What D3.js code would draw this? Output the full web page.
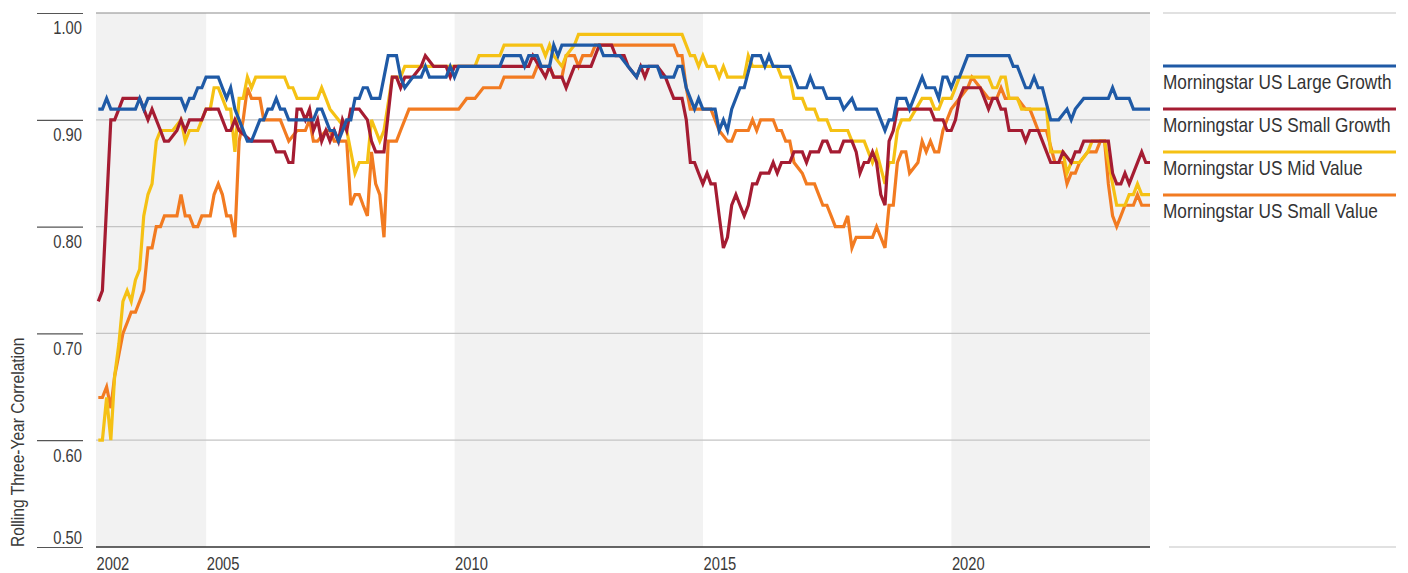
<!DOCTYPE html>
<html>
<head>
<meta charset="utf-8">
<script src="https://cdn.jsdelivr.net/npm/d3@7"></script>
<style>
  body { margin: 0; background: #fff; }
  svg text { font-family: "Liberation Sans", Arial, sans-serif; }
</style>
</head>
<body>
<svg id="chart" width="1408" height="573"></svg>
<script>
// ######## Data: rolling three-year correlation, [month, value]
// ######## (only the months where the line changes direction are kept)

const largeGrowth = [
  ["2002-10",.91],["2002-11",.91],["2002-12",.92],["2003-01",.91],["2003-07",.91],["2003-08",.92],["2003-09",.91],["2003-10",.92],
  ["2004-06",.92],["2004-07",.91],["2004-08",.92],["2004-09",.92],["2004-10",.93],["2004-11",.93],["2004-12",.94],
  ["2005-03",.94],["2005-04",.93],["2005-05",.92],["2005-06",.93],["2005-07",.91],["2005-10",.88],["2005-11",.88],
  ["2006-01",.90],["2006-02",.90],["2006-03",.91],["2006-04",.91],["2006-05",.92],["2006-06",.91],["2006-07",.91],["2006-08",.90],
  ["2007-02",.90],["2007-03",.91],["2007-04",.91],["2007-05",.90],["2007-06",.89],["2007-07",.89],["2007-08",.88],["2007-10",.90],["2007-11",.90],["2007-12",.92],
  ["2008-01",.92],["2008-02",.93],["2008-03",.93],["2008-04",.92],["2008-06",.92],["2008-07",.94],["2008-08",.96],["2008-10",.96],["2008-11",.94],["2008-12",.93],
  ["2009-02",.94],["2009-04",.94],["2009-05",.95],["2009-06",.94],["2009-10",.94],["2009-11",.95],["2009-12",.94],
  ["2010-01",.95],["2010-11",.95],["2010-12",.96],
  ["2011-04",.96],["2011-05",.95],["2011-06",.96],["2011-08",.96],["2011-09",.95],["2011-11",.95],["2011-12",.97],
  ["2012-01",.96],["2012-02",.97],["2012-11",.97],["2012-12",.96],
  ["2013-04",.96],["2013-06",.95],["2013-08",.94],["2013-09",.95],
  ["2014-01",.95],["2014-02",.94],["2014-05",.94],["2014-06",.95],["2014-07",.95],["2014-08",.93],["2014-10",.91],["2014-11",.92],["2014-12",.91],
  ["2015-03",.91],["2015-04",.89],["2015-05",.90],["2015-06",.89],["2015-07",.91],["2015-09",.93],["2015-10",.93],["2015-12",.96],
  ["2016-02",.96],["2016-03",.95],["2016-04",.96],["2016-05",.95],["2016-09",.95],["2016-11",.93],
  ["2017-01",.93],["2017-02",.94],["2017-03",.93],["2017-05",.93],["2017-06",.92],["2017-09",.92],["2017-10",.91],["2017-12",.92],
  ["2018-01",.91],["2018-06",.91],["2018-08",.89],["2018-09",.90],["2018-10",.90],["2018-11",.92],
  ["2019-01",.92],["2019-02",.91],["2019-05",.94],["2019-06",.93],["2019-08",.93],["2019-09",.92],["2019-10",.94],["2019-11",.94],["2019-12",.93],
  ["2020-01",.94],["2020-02",.94],["2020-04",.96],
  ["2021-02",.96],["2021-03",.95],["2021-04",.95],["2021-06",.93],["2021-07",.93],["2021-08",.94],["2021-09",.93],["2021-10",.93],["2021-12",.90],
  ["2022-02",.90],["2022-04",.91],["2022-05",.90],["2022-06",.91],["2022-08",.92],
  ["2023-02",.92],["2023-03",.93],["2023-04",.92],["2023-07",.92],["2023-08",.91],["2023-12",.91]
];

const smallGrowth = [
  ["2002-10",.73],["2002-11",.74],["2003-01",.90],["2003-02",.90],["2003-03",.91],["2003-04",.92],["2003-08",.92],["2003-10",.90],["2003-11",.91],
  ["2004-01",.89],["2004-02",.88],["2004-03",.88],["2004-05",.89],["2004-06",.90],["2004-07",.89],["2004-08",.90],["2004-11",.90],["2004-12",.91],
  ["2005-03",.91],["2005-05",.89],["2005-06",.89],["2005-07",.90],["2005-08",.89],["2005-11",.88],
  ["2006-04",.88],["2006-05",.87],["2006-07",.87],["2006-08",.86],["2006-09",.86],["2006-10",.91],["2006-11",.91],["2006-12",.90],
  ["2007-01",.91],["2007-02",.89],["2007-03",.90],["2007-04",.88],["2007-05",.89],["2007-06",.88],["2007-07",.89],["2007-08",.88],["2007-09",.90],["2007-10",.89],["2007-11",.91],
  ["2008-01",.91],["2008-03",.90],["2008-04",.88],["2008-05",.87],["2008-07",.87],["2008-09",.94],["2008-10",.94],["2008-11",.93],["2008-12",.94],
  ["2009-02",.94],["2009-04",.95],["2009-05",.96],["2009-07",.95],["2009-10",.95],["2009-11",.94],["2009-12",.95],
  ["2011-06",.95],["2011-07",.96],["2011-10",.94],["2011-11",.95],["2011-12",.94],
  ["2012-02",.94],["2012-03",.93],["2012-04",.94],["2012-05",.95],["2012-09",.95],["2012-11",.97],
  ["2013-02",.97],["2013-03",.96],["2013-05",.96],["2013-06",.95],["2013-08",.94],["2013-09",.95],["2013-10",.94],["2013-11",.95],
  ["2014-01",.95],["2014-03",.94],["2014-04",.93],["2014-05",.92],["2014-07",.92],["2014-08",.90],["2014-09",.86],["2014-10",.86],["2014-11",.85],["2014-12",.84],
  ["2015-01",.85],["2015-02",.84],["2015-03",.84],["2015-04",.81],["2015-05",.78],["2015-06",.79],["2015-07",.82],["2015-08",.83],["2015-09",.82],["2015-10",.81],["2015-11",.82],["2015-12",.84],
  ["2016-01",.84],["2016-02",.85],["2016-04",.85],["2016-05",.86],["2016-06",.85],["2016-07",.86],["2016-09",.86],["2016-10",.87],["2016-12",.87],
  ["2017-01",.86],["2017-02",.87],["2017-04",.87],["2017-05",.88],["2017-06",.88],["2017-07",.87],["2017-09",.87],["2017-10",.88],["2017-12",.88],
  ["2018-01",.87],["2018-02",.85],["2018-03",.86],["2018-04",.86],["2018-05",.87],["2018-06",.86],["2018-07",.83],["2018-08",.82],["2018-09",.88],["2018-10",.89],["2018-11",.91],
  ["2019-07",.91],["2019-08",.90],["2019-10",.90],["2019-11",.89],["2019-12",.89],
  ["2020-01",.90],["2020-02",.92],["2020-03",.93],["2020-07",.93],["2020-08",.92],["2020-09",.91],["2020-10",.92],["2020-11",.92],["2020-12",.91],
  ["2021-01",.91],["2021-02",.89],["2021-05",.89],["2021-06",.88],["2021-07",.89],["2021-09",.89],["2021-10",.88],["2021-12",.86],
  ["2022-02",.86],["2022-03",.87],["2022-05",.86],["2022-06",.87],["2022-07",.87],["2022-08",.88],
  ["2023-02",.88],["2023-03",.85],["2023-04",.84],["2023-05",.84],["2023-06",.85],["2023-07",.84],["2023-10",.87],["2023-11",.86],["2023-12",.86]
];

const midValue = [
  ["2002-10",.60],["2002-11",.60],["2002-12",.64],["2003-01",.60],["2003-02",.66],["2003-03",.69],["2003-04",.73],["2003-05",.74],["2003-06",.73],
  ["2003-07",.75],["2003-08",.76],["2003-09",.81],["2003-10",.83],["2003-11",.84],["2003-12",.88],
  ["2004-01",.89],["2004-04",.89],["2004-06",.90],["2004-07",.88],["2004-08",.89],["2004-10",.89],["2004-12",.91],
  ["2005-01",.91],["2005-02",.93],["2005-03",.93],["2005-05",.91],["2005-06",.91],["2005-07",.87],["2005-08",.92],["2005-09",.92],["2005-10",.94],["2005-11",.93],["2005-12",.94],
  ["2006-07",.94],["2006-08",.93],["2006-09",.93],["2006-10",.92],
  ["2007-03",.92],["2007-04",.93],["2007-05",.92],["2007-06",.91],["2007-08",.90],["2007-10",.89],["2007-12",.85],
  ["2008-01",.86],["2008-03",.86],["2008-04",.90],["2008-05",.89],["2008-06",.88],["2008-07",.89],["2008-09",.94],["2008-11",.94],["2008-12",.95],
  ["2010-05",.95],["2010-06",.96],["2010-11",.96],["2010-12",.97],
  ["2011-09",.97],["2011-10",.96],["2011-11",.97],["2011-12",.96],
  ["2012-02",.95],["2012-03",.96],["2012-05",.97],["2012-06",.98],
  ["2014-07",.98],["2014-09",.96],["2014-10",.96],["2014-11",.95],["2014-12",.96],
  ["2015-01",.95],["2015-03",.95],["2015-04",.94],["2015-05",.95],["2015-06",.94],["2015-10",.94],["2015-11",.96],["2015-12",.95],
  ["2016-06",.95],["2016-07",.94],["2016-09",.94],["2016-10",.92],["2016-12",.92],
  ["2017-01",.91],["2017-03",.91],["2017-04",.90],["2017-06",.90],["2017-07",.89],["2017-11",.89],["2017-12",.88],
  ["2018-03",.88],["2018-05",.86],["2018-06",.87],["2018-08",.84],["2018-09",.86],["2018-10",.86],["2018-11",.89],["2018-12",.90],
  ["2019-02",.90],["2019-05",.92],["2019-07",.92],["2019-08",.91],["2019-09",.91],["2019-10",.92],["2019-12",.92],
  ["2020-01",.93],["2020-02",.94],["2020-09",.94],["2020-10",.93],["2020-11",.93],["2020-12",.94],
  ["2021-01",.94],["2021-02",.92],["2021-04",.92],["2021-05",.91],["2021-11",.91],["2021-12",.87],
  ["2022-03",.87],["2022-04",.85],["2022-05",.86],["2022-07",.86],["2022-09",.87],["2022-10",.88],
  ["2023-01",.88],["2023-03",.84],["2023-04",.82],["2023-06",.82],["2023-07",.83],["2023-08",.83],["2023-09",.84],["2023-10",.83],["2023-12",.83]
];

const smallValue = [
  ["2002-10",.64],["2002-11",.64],["2002-12",.65],["2003-01",.63],["2003-02",.66],["2003-03",.68],["2003-04",.70],["2003-05",.71],["2003-06",.72],
  ["2003-07",.72],["2003-08",.73],["2003-09",.74],["2003-10",.78],["2003-11",.78],["2003-12",.80],
  ["2004-01",.80],["2004-02",.81],["2004-05",.81],["2004-06",.83],["2004-07",.81],["2004-08",.81],["2004-09",.80],["2004-10",.80],["2004-11",.81],
  ["2005-01",.81],["2005-02",.83],["2005-03",.84],["2005-04",.83],["2005-05",.81],["2005-06",.81],["2005-07",.79],["2005-08",.88],["2005-09",.90],["2005-10",.93],["2005-11",.92],
  ["2006-01",.92],["2006-02",.90],["2006-06",.90],["2006-07",.89],["2006-08",.88],["2006-10",.89],["2006-12",.89],
  ["2007-01",.90],["2007-02",.88],["2007-03",.88],["2007-05",.89],["2007-06",.89],["2007-07",.88],["2007-10",.88],["2007-11",.82],["2007-12",.83],
  ["2008-01",.83],["2008-02",.82],["2008-03",.81],["2008-04",.87],["2008-05",.84],["2008-06",.83],["2008-07",.79],["2008-08",.88],["2008-10",.88],["2008-11",.89],
  ["2009-01",.91],["2010-01",.91],["2010-03",.92],["2010-05",.92],["2010-07",.93],["2010-11",.93],["2010-12",.94],
  ["2011-07",.94],["2011-08",.95],["2011-11",.95],["2011-12",.94],
  ["2012-02",.94],["2012-03",.96],["2012-05",.96],["2012-06",.95],["2012-07",.96],["2012-09",.96],["2012-10",.97],
  ["2014-05",.97],["2014-06",.96],["2014-07",.96],["2014-08",.93],["2014-09",.91],
  ["2015-02",.91],["2015-03",.90],["2015-04",.89],["2015-06",.88],["2015-07",.88],["2015-08",.89],["2015-11",.89],["2015-12",.90],
  ["2016-01",.89],["2016-02",.90],["2016-05",.90],["2016-06",.89],["2016-07",.89],["2016-08",.88],["2016-09",.88],["2016-10",.86],["2016-12",.85],
  ["2017-01",.84],["2017-03",.84],["2017-05",.82],["2017-06",.82],["2017-07",.81],["2017-08",.80],["2017-10",.80],["2017-11",.81],["2017-12",.78],
  ["2018-01",.79],["2018-05",.79],["2018-06",.80],["2018-07",.79],["2018-08",.78],["2018-09",.82],["2018-10",.82],["2018-11",.86],["2018-12",.87],
  ["2019-01",.87],["2019-02",.85],["2019-04",.86],["2019-05",.88],["2019-06",.87],["2019-07",.88],["2019-08",.87],["2019-09",.87],["2019-10",.89],["2019-11",.90],["2019-12",.91],
  ["2020-02",.92],["2020-04",.93],["2020-05",.94],["2020-07",.93],["2020-09",.92],["2020-11",.92],["2020-12",.93],
  ["2021-01",.92],["2021-04",.92],["2021-06",.91],["2021-07",.91],["2021-08",.90],["2021-09",.89],["2021-11",.89],
  ["2022-01",.86],["2022-03",.86],["2022-04",.84],["2022-05",.85],["2022-06",.85],["2022-07",.86],["2022-09",.87],["2022-11",.87],["2022-12",.88],
  ["2023-01",.88],["2023-02",.84],["2023-03",.81],["2023-04",.80],["2023-05",.81],["2023-06",.82],["2023-08",.82],["2023-09",.83],["2023-10",.82],["2023-12",.82]
];

const seriesNames = ["Morningstar US Large Growth", "Morningstar US Small Growth", "Morningstar US Mid Value", "Morningstar US Small Value"];
const seriesColors = ["#1f5aa6", "#a51c32", "#f5c114", "#f27b21"];
const allSeries = [largeGrowth, smallGrowth, midValue, smallValue];

const yTicks = [1.0, 0.9, 0.8, 0.7, 0.6, 0.5];
const xTickYears = [2005, 2010, 2015, 2020];
const xTickLabels = ["2002", "2005", "2010", "2015", "2020"];
const yTitle = "Rolling Three-Year Correlation";


// ######## Scales
const svg = d3.select("#chart");
const plotLeft = 96, plotRight = 1150, plotTop = 13, plotBottom = 547;
const textColor = "#3a3a3a";

const parseMonth = d3.timeParse("%Y-%m");
// values are month-end numbers
function monthEnd(s) {
    return d3.timeDay.offset(d3.timeMonth.offset(parseMonth(s), 1), -1);
}

// no condensed face installed, so squeeze the regular one
// around the text's own x, so the anchor stays put
function narrow(sel) {
    sel.each(function() {
        const x0 = +this.getAttribute("x") || 0;
        const prev = this.getAttribute("transform") || "";
        this.setAttribute("transform",
            prev + " translate(" + x0 + ",0) scale(0.82,1) translate(" + (-x0) + ",0)");
    });
}

const xStart = new Date(2002, 9, 14);
const xEnd = new Date(2023, 11, 31);
const x = d3.scaleTime().domain([xStart, xEnd]).range([plotLeft, plotRight]);
const y = d3.scaleLinear().domain([0.5, 1]).range([plotBottom, plotTop]);

const yearDate = yr => new Date(yr, 0, 1);


// ######## Shaded periods
const bands = [[xStart, yearDate(2005)], [yearDate(2010), yearDate(2015)], [yearDate(2020), xEnd]];
svg.append("g").selectAll("rect")
    .data(bands)
    .join("rect")
    .attr("x", d => x(d[0]))
    .attr("width", d => x(d[1]) - x(d[0]))
    .attr("y", plotTop)
    .attr("height", plotBottom - plotTop)
    .attr("fill", "#f2f2f2");


// ######## Gridlines
svg.append("g").selectAll("line")
    .data(yTicks.filter(t => t > 0.5))
    .join("line")
    .attr("x1", plotLeft)
    .attr("x2", plotRight)
    .attr("y1", d => y(d))
    .attr("y2", d => y(d))
    .attr("stroke", d => d === 1 ? "#8c8c8c" : "#c4c4c4")
    .attr("stroke-width", 1.2);


// ######## Y axis: ticks hang left, labels sit under the tick
const yAxis = d3.axisLeft(y)
    .tickValues(yTicks)
    .tickSize(46)
    .tickFormat(d3.format(".2f"));

const gy = svg.append("g")
    .attr("transform", "translate(83,0)")
    .call(yAxis);

gy.select(".domain").remove();
gy.selectAll(".tick line").attr("stroke", "#555").attr("stroke-width", 1.2);
gy.selectAll(".tick text")
    .attr("x", -1)
    .attr("dy", d => d === 0.5 ? -4 : 21)
    .attr("font-size", 18)
    .attr("fill", textColor)
    .call(narrow);

svg.append("text")
    .attr("transform", "translate(24," + plotBottom + ") rotate(-90)")
    .attr("text-anchor", "start")
    .attr("font-size", 19)
    .attr("fill", textColor)
    .text(yTitle)
    .call(narrow);


// ######## X axis
const xAxis = d3.axisBottom(x)
    .tickValues([xStart].concat(xTickYears.map(yearDate)))
    .tickSize(0)
    .tickFormat((d, i) => xTickLabels[i]);

const gx = svg.append("g")
    .attr("transform", "translate(0," + plotBottom + ")")
    .call(xAxis);

gx.select(".domain").remove();
gx.selectAll(".tick text")
    .attr("text-anchor", "start")
    .attr("x", 0)
    .attr("y", 23)
    .attr("dy", 0)
    .attr("font-size", 18)
    .attr("fill", textColor)
    .call(narrow);


// ######## Lines (small value first, large growth on top)
const line = d3.line()
    .x(d => x(monthEnd(d[0])))
    .y(d => y(d[1]));

for (let i = allSeries.length - 1; i >= 0; i--) {
    svg.append("path")
        .datum(allSeries[i])
        .attr("d", line)
        .attr("fill", "none")
        .attr("stroke", seriesColors[i])
        .attr("stroke-width", 3.2);
}

// bottom axis line drawn over the lines
svg.append("line")
    .attr("x1", plotLeft).attr("x2", plotRight)
    .attr("y1", plotBottom).attr("y2", plotBottom)
    .attr("stroke", "#333")
    .attr("stroke-width", 1.5);


// ######## Legend
const legendLeft = 1163, legendRight = 1396;

svg.append("line")
    .attr("x1", legendLeft).attr("x2", legendRight)
    .attr("y1", plotTop).attr("y2", plotTop)
    .attr("stroke", "#c4c4c4").attr("stroke-width", 1.2);
svg.append("line")
    .attr("x1", legendLeft + 6).attr("x2", legendRight)
    .attr("y1", plotBottom).attr("y2", plotBottom)
    .attr("stroke", "#c4c4c4").attr("stroke-width", 1.2);

const legend = svg.append("g").selectAll("g")
    .data(seriesNames)
    .join("g")
    .attr("transform", (d, i) => "translate(" + legendLeft + "," + (66 + i * 43) + ")");

legend.append("line")
    .attr("x1", 0)
    .attr("x2", legendRight - legendLeft)
    .attr("stroke", (d, i) => seriesColors[i])
    .attr("stroke-width", 3);

legend.append("text")
    .attr("x", 0)
    .attr("y", 23)
    .attr("font-size", 21)
    .attr("fill", "#333")
    .text(d => d)
    .call(narrow);
</script>
</body>
</html>
